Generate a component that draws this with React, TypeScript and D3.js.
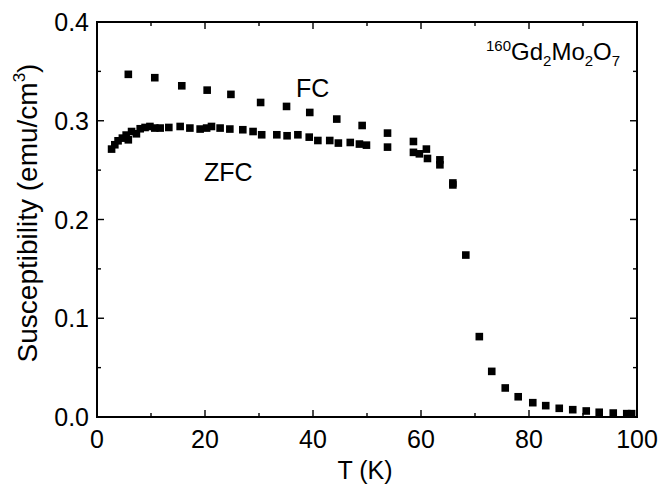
import React, { useEffect, useRef } from "react";
import * as d3 from "d3";

const fcT = [5.8, 10.7, 15.7, 20.4, 24.8, 30.3, 35.1, 39.4, 44.4, 49.1, 53.8, 58.6, 61.0, 63.5, 65.9];
const fcV = [0.347, 0.3436, 0.3354, 0.331, 0.3267, 0.3185, 0.3145, 0.3084, 0.3017, 0.2952, 0.2875, 0.279, 0.2713, 0.2604, 0.237];

const zfcT = [2.7, 3.3, 3.9, 4.7, 5.4, 5.8, 6.4, 7.3, 8.0, 8.9, 9.8, 10.7, 11.7, 13.3, 15.4, 17.2, 19.1, 20.3, 21.2, 22.8, 24.6, 27.0, 28.9, 30.5, 33.3, 35.2, 37.2, 39.3, 40.9, 43.1, 44.7, 46.9, 48.6, 49.9, 53.8, 58.6, 59.7, 61.2, 63.5, 65.9, 68.3, 70.8, 73.1, 75.6, 78.0, 80.7, 83.1, 85.6, 88.1, 90.6, 93.0, 95.6, 98.1, 99.0];
const zfcV = [0.2713, 0.2757, 0.2797, 0.2824, 0.2855, 0.2807, 0.2891, 0.2868, 0.2919, 0.2932, 0.2942, 0.2926, 0.2926, 0.2932, 0.2942, 0.2926, 0.2916, 0.2926, 0.2942, 0.2926, 0.2916, 0.2909, 0.2891, 0.2858, 0.2858, 0.2848, 0.2858, 0.2834, 0.28, 0.28, 0.2774, 0.278, 0.2764, 0.2753, 0.2733, 0.268, 0.2665, 0.2618, 0.2554, 0.235, 0.164, 0.0814, 0.0462, 0.0294, 0.0205, 0.0145, 0.0115, 0.0088, 0.0074, 0.0061, 0.0048, 0.004, 0.0034, 0.0034];

const xTicks = [0, 20, 40, 60, 80, 100];
const xMinor = [10, 30, 50, 70, 90];
const yTicks = [0.0, 0.1, 0.2, 0.3, 0.4];
const yMinor = [0.05, 0.15, 0.25, 0.35];

const L = 97, R = 637, T = 22, B = 417;

export default function App() {
  const ref = useRef<SVGGElement>(null);
  useEffect(() => {
    document.body.style.margin = "0";
    const g = d3.select(ref.current);
    g.selectAll("*").remove();
    const x = d3.scaleLinear().domain([0, 100]).range([L, R]);
    const y = d3.scaleLinear().domain([0, 0.4]).range([B, T]);
    const font = "'Liberation Sans', Arial, sans-serif";

    const bar = (x0: number, y0: number, w: number, h: number) =>
      g.append("rect").attr("x", x0).attr("y", y0).attr("width", w).attr("height", h).attr("fill", "#000");
    const tw = 1.4;

    const major = 7, minor = 4;
    xTicks.forEach((t) => {
      bar(x(t) - tw / 2, B - major, tw, major);
      bar(x(t) - tw / 2, T, tw, major);
      g.append("text").attr("x", x(t)).attr("y", 448).attr("text-anchor", "middle")
        .attr("font-family", font).attr("font-size", 25).text(String(t));
    });
    xMinor.forEach((t) => {
      bar(x(t) - tw / 2, B - minor, tw, minor);
      bar(x(t) - tw / 2, T, tw, minor);
    });
    yTicks.forEach((t) => {
      bar(L, y(t) - tw / 2, major, tw);
      bar(R - major, y(t) - tw / 2, major, tw);
      g.append("text").attr("x", L - 8).attr("y", y(t) + 9).attr("text-anchor", "end")
        .attr("font-family", font).attr("font-size", 25).text(d3.format(".1f")(t));
    });
    yMinor.forEach((t) => {
      bar(L, y(t) - tw / 2, minor, tw);
      bar(R - minor, y(t) - tw / 2, minor, tw);
    });

    g.append("text").attr("x", 365).attr("y", 479).attr("text-anchor", "middle")
      .attr("font-family", font).attr("font-size", 25).text("T (K)");
    const yl = g.append("text").attr("transform", `translate(37,213) rotate(-90)`)
      .attr("text-anchor", "middle").attr("font-family", font).attr("font-size", 28);
    yl.append("tspan").text("Susceptibility (emu/cm");
    yl.append("tspan").attr("font-size", 17).attr("dy", -12).text("3");
    yl.append("tspan").attr("dy", 12).text(")");

    const s = 7.6;
    const draw = (ts: number[], vs: number[]) => {
      g.append("g").selectAll("rect").data(ts.map((t, i) => [t, vs[i]])).join("rect")
        .attr("x", (d) => x(d[0]) - s / 2).attr("y", (d) => y(d[1]) - s / 2)
        .attr("width", s).attr("height", s).attr("fill", "#000");
    };
    draw(zfcT, zfcV);
    draw(fcT, fcV);

    g.append("text").attr("x", 296).attr("y", 97).attr("font-family", font).attr("font-size", 25).text("FC");
    g.append("text").attr("x", 204).attr("y", 181).attr("font-family", font).attr("font-size", 25).text("ZFC");
    const tl = g.append("text").attr("x", 486).attr("y", 60).attr("font-family", font).attr("font-size", 24);
    tl.append("tspan").attr("font-size", 15).attr("dy", -9).text("160");
    tl.append("tspan").attr("dy", 9).text("Gd");
    tl.append("tspan").attr("font-size", 15).attr("dy", 6).text("2");
    tl.append("tspan").attr("dy", -6).text("Mo");
    tl.append("tspan").attr("font-size", 15).attr("dy", 6).text("2");
    tl.append("tspan").attr("dy", -6).text("O");
    tl.append("tspan").attr("font-size", 15).attr("dy", 6).text("7");
  }, []);
  return (
    <svg width={663} height={484} style={{ position: "absolute", left: 0, top: 0, background: "#fff" }}>
      <rect x={L} y={T} width={R - L} height={B - T} fill="none" stroke="#000" strokeWidth={2} />
      <g ref={ref} />
    </svg>
  );
}
